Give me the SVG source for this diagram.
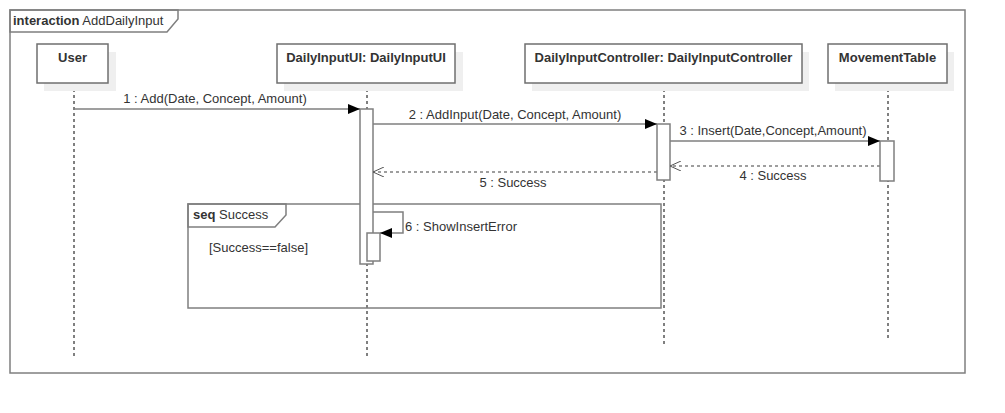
<svg xmlns="http://www.w3.org/2000/svg" width="1005" height="413" viewBox="0 0 1005 413">
<style>
text{font-family:"Liberation Sans",Arial,sans-serif;font-size:13px;fill:#333}
.b{font-weight:bold}
.frame{fill:none;stroke:#7f7f7f;stroke-width:1.5}
.box{fill:#fff;stroke:#6f6f6f;stroke-width:1.5}
.sh{fill:#efefef}
.life{stroke:#000;stroke-width:1;stroke-dasharray:3,3}
.act{fill:#fff;stroke:#7f7f7f;stroke-width:1.5}
.msg{stroke:#7f7f7f;stroke-width:1.5;fill:none}
.ret{stroke:#7f7f7f;stroke-width:1.5;stroke-dasharray:3,3;fill:none}
</style>
<defs>
<marker id="fa" markerWidth="13" markerHeight="10" refX="12" refY="5" orient="auto" markerUnits="userSpaceOnUse">
<path d="M0,0 L12,5 L0,10 Z" fill="#000"/>
</marker>
<marker id="oa" markerWidth="12" markerHeight="10" refX="11" refY="5" orient="auto" markerUnits="userSpaceOnUse">
<path d="M0,0 L11,5 L0,10" fill="none" stroke="#555" stroke-width="1"/>
</marker>
</defs>
<rect width="1005" height="413" fill="#fff"/>
<g id="frame">
<rect class="frame" x="10" y="10" width="955" height="363"/>
<polygon class="frame" points="10,10 178,10 178,19 167,32 10,32" fill="#fff"/>
<text x="13" y="25"><tspan class="b">interaction</tspan> AddDailyInput</text>
</g>
<g id="lifelines">
<line class="life" x1="74" y1="83" x2="74" y2="356"/>
<line class="life" x1="367" y1="83" x2="367" y2="356"/>
<line class="life" x1="664" y1="83" x2="664" y2="345"/>
<line class="life" x1="888" y1="83" x2="888" y2="340"/>
</g>
<g id="user">
<rect class="sh" x="44" y="52" width="72" height="39"/>
<rect class="box" x="37" y="44" width="71" height="39"/>
<text class="b" x="72.5" y="62" text-anchor="middle">User</text>
</g>
<g id="dailyInputUI">
<rect class="sh" x="284" y="52" width="179" height="39"/>
<rect class="box" x="277" y="44" width="178" height="39"/>
<text class="b" x="366" y="62" text-anchor="middle">DailyInputUI: DailyInputUI</text>
</g>
<g id="dailyInputController">
<rect class="sh" x="532" y="52" width="277" height="39"/>
<rect class="box" x="525" y="44" width="277" height="39"/>
<text class="b" x="663.5" y="62" text-anchor="middle">DailyInputController: DailyInputController</text>
</g>
<g id="movementTable">
<rect class="sh" x="835" y="52" width="119" height="39"/>
<rect class="box" x="828" y="44" width="119" height="39"/>
<text class="b" x="887.5" y="62" text-anchor="middle">MovementTable</text>
</g>
<g id="seqFragment">
<rect class="frame" x="188" y="204" width="473" height="104"/>
<polygon class="frame" points="188,204 286,204 286,215 275,227 188,227" fill="#fff"/>
<text x="193" y="219"><tspan class="b">seq</tspan>  Success</text>
<text x="209" y="252">[Success==false]</text>
</g>
<g id="activations">
<rect class="act" x="360" y="109" width="13" height="155"/>
<rect class="act" x="367" y="233" width="13" height="28"/>
<rect class="act" x="657" y="124" width="13" height="56"/>
<rect class="act" x="880" y="141" width="14" height="40"/>
</g>
<g id="connectors">
<line class="msg" x1="74" y1="109" x2="360" y2="109" marker-end="url(#fa)"/>
<text x="215" y="103" text-anchor="middle">1 : Add(Date, Concept, Amount)</text>
<line class="msg" x1="373" y1="124" x2="657" y2="124" marker-end="url(#fa)"/>
<text x="515" y="119" text-anchor="middle">2 : AddInput(Date, Concept, Amount)</text>
<line class="msg" x1="670" y1="141" x2="880" y2="141" marker-end="url(#fa)"/>
<text x="773" y="135" text-anchor="middle">3 : Insert(Date,Concept,Amount)</text>
<line class="ret" x1="880" y1="166" x2="670" y2="166" marker-end="url(#oa)"/>
<text x="773" y="180" text-anchor="middle">4 : Success</text>
<line class="ret" x1="657" y1="172" x2="373" y2="172" marker-end="url(#oa)"/>
<text x="513" y="187" text-anchor="middle">5 : Success</text>
<polyline class="msg" points="373,212 403,212 403,233 380,233" marker-end="url(#fa)"/>
<text x="405" y="231">6 : ShowInsertError</text>
</g>
</svg>
